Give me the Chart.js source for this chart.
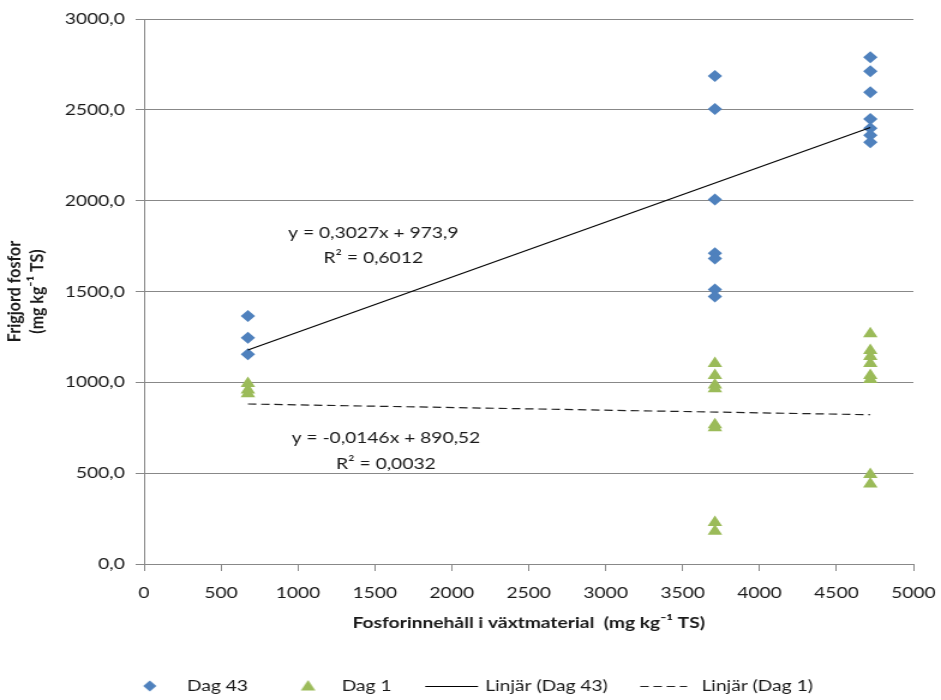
<!DOCTYPE html>
<html><head><meta charset="utf-8">
<script src="https://cdn.jsdelivr.net/npm/chart.js@4"></script>
<style>
html,body{margin:0;padding:0;background:#fff;overflow:hidden;}
#wrap{width:784px;height:700px;transform:scaleX(1.20026);transform-origin:0 0;}
</style></head><body>
<div id="wrap"><canvas id="c"></canvas></div>
<script>
// ---- data ----
const xTickValues = [0, 500, 1000, 1500, 2000, 2500, 3000, 3500, 4000, 4500, 5000];
const yTickValues = [0, 500, 1000, 1500, 2000, 2500, 3000];
const seriesNames = ['Dag 43', 'Dag 1', 'Linjär (Dag 43)', 'Linjär (Dag 1)'];

const dag43X = [675, 675, 675,
  3710, 3710, 3710, 3710, 3710, 3710, 3710,
  4720, 4720, 4720, 4720, 4720, 4720, 4720];
const dag43Y = [1365, 1245, 1155,
  2686, 2504, 2007, 1710, 1682, 1511, 1472,
  2790, 2713, 2597, 2449, 2399, 2360, 2322];

const dag1X = [675, 675, 675,
  3710, 3710, 3710, 3710, 3710, 3710, 3710, 3710,
  4720, 4720, 4720, 4720, 4720, 4720, 4720, 4720];
const dag1Y = [993, 958, 937,
  1103, 1037, 985, 965, 767, 750, 228, 180,
  1268, 1175, 1142, 1103, 1037, 1015, 492, 440];

const trend43 = [0.3027, 973.9];   // slope, intercept
const trend1 = [-0.0146, 890.52];
const eqTexts = ['y = 0,3027x + 973,9', 'R² = 0,6012', 'y = -0,0146x + 890,52', 'R² = 0,0032'];

// ---- build ----
const pts = (xs, ys) => xs.map((x, i) => ({x: x, y: ys[i]}));
const trendPts = (xs, c) => {
  const lo = Math.min(...xs), hi = Math.max(...xs);
  return [{x: lo, y: c[0] * lo + c[1]}, {x: hi, y: c[0] * hi + c[1]}];
};

const BLUE = '#4F81BD', GREEN = '#9BBB59', GRID = '#888888', TXT = '#1a1a1a';
const FONT = 'Lato';

// legend symbol images
const BOXW = 52, IMGW = BOXW + 16, IMGH = 18;
function sym(draw) {
  const c = document.createElement('canvas');
  c.width = IMGW; c.height = IMGH;
  const g = c.getContext('2d');
  draw(g);
  return c;
}
const symDiamond = sym(g => {
  const cx = 37, cy = IMGH / 2, r = 5.5;
  g.fillStyle = BLUE; g.beginPath();
  g.moveTo(cx - r, cy); g.lineTo(cx, cy - r); g.lineTo(cx + r, cy); g.lineTo(cx, cy + r);
  g.closePath(); g.fill();
});
const symTri = sym(g => {
  const cx = 40, cy = IMGH / 2 + 1, r = 7;
  g.fillStyle = GREEN; g.beginPath();
  g.moveTo(cx, cy - r); g.lineTo(cx + 0.866 * r, cy + r / 2); g.lineTo(cx - 0.866 * r, cy + r / 2);
  g.closePath(); g.fill();
});
const symLine = sym(g => {
  g.strokeStyle = '#000'; g.lineWidth = 1.2;
  g.beginPath(); g.moveTo(18, IMGH / 2 + 0.5); g.lineTo(62, IMGH / 2 + 0.5); g.stroke();
});
const symDash = sym(g => {
  g.strokeStyle = '#222'; g.lineWidth = 1.2; g.setLineDash([7, 4]);
  g.beginPath(); g.moveTo(17, IMGH / 2 + 0.5); g.lineTo(56, IMGH / 2 + 0.5); g.stroke();
});
const legendSyms = [symDiamond, symTri, symLine, symDash];

const eqPlugin = {
  id: 'eqPlugin',
  afterLayout(chart) {
    if (chart.legend) { chart.legend.left += 6; chart.legend.right += 6; }
  },
  afterDatasetsDraw(chart) {
    const {ctx, scales: {x, y}} = chart;
    const place = [[1490, 1822], [1490, 1685], [1572, 697], [1572, 553]];
    ctx.save();
    ctx.font = '16px ' + FONT;
    ctx.fillStyle = TXT;
    ctx.textAlign = 'center';
    ctx.textBaseline = 'middle';
    eqTexts.forEach((t, i) => {
      ctx.fillText(t, x.getPixelForValue(place[i][0]), y.getPixelForValue(place[i][1]));
    });
    ctx.restore();
  }
};

new Chart(document.getElementById('c'), {
  type: 'scatter',
  data: {
    datasets: [
      {label: seriesNames[0], data: pts(dag43X, dag43Y), pointStyle: 'rectRot', pointRadius: 6,
       backgroundColor: BLUE, borderColor: BLUE, borderWidth: 0, order: 2},
      {label: seriesNames[1], data: pts(dag1X, dag1Y), pointStyle: 'triangle', pointRadius: 7,
       backgroundColor: GREEN, borderColor: GREEN, borderWidth: 0, order: 3},
      {label: seriesNames[2], type: 'line', data: trendPts(dag43X, trend43), showLine: true,
       borderColor: '#000', borderWidth: 1.2, pointRadius: 0, fill: false, order: 0},
      {label: seriesNames[3], type: 'line', data: trendPts(dag1X, trend1), showLine: true,
       borderColor: '#222', borderWidth: 1.2, borderDash: [7, 4], pointRadius: 0, fill: false, order: 1}
    ]
  },
  options: {
    responsive: true,
    maintainAspectRatio: false,
    animation: false,
    layout: {padding: {left: 0, right: 23, top: 19, bottom: -4}},
    plugins: {
      tooltip: {enabled: false},
      legend: {
        position: 'bottom',
        labels: {
          usePointStyle: true,
          pointStyleWidth: BOXW,
          padding: 18,
          color: TXT,
          font: {family: FONT, size: 16},
          generateLabels: () => seriesNames.map((n, i) => ({
            text: n, pointStyle: legendSyms[i], fillStyle: 'rgba(0,0,0,0)',
            strokeStyle: 'rgba(0,0,0,0)', lineWidth: 0, hidden: false, datasetIndex: i, fontColor: TXT
          }))
        }
      }
    },
    scales: {
      x: {
        type: 'linear', min: 0, max: 5000,
        afterBuildTicks: s => { s.ticks = xTickValues.map(v => ({value: v})); },
        afterFit: s => { s.height = 96; s.paddingRight = 0; s.paddingLeft = 0; },
        ticks: {color: TXT, font: {family: FONT, size: 16}, padding: 12, maxRotation: 0,
                callback: v => String(v)},
        grid: {drawOnChartArea: false, drawTicks: true, tickLength: 7, color: GRID},
        border: {color: GRID},
        title: {display: true, text: 'Fosforinnehåll i växtmaterial  (mg kg⁻¹ TS)', color: TXT,
                font: {family: FONT, size: 16, weight: 'bold'}, padding: {top: 6, bottom: 28}}
      },
      y: {
        min: 0, max: 3000,
        afterBuildTicks: s => { s.ticks = yTickValues.map(v => ({value: v})); },
        afterFit: s => { s.width = 120; },
        ticks: {color: TXT, font: {family: FONT, size: 16}, padding: 9,
                callback: v => v.toFixed(1).replace('.', ',')},
        grid: {color: GRID, tickLength: 7},
        border: {color: GRID},
        title: {display: true, text: ['Frigjord fosfor', '(mg kg⁻¹ TS)'], color: TXT,
                font: {family: FONT, size: 16, weight: 'bold'}, padding: {top: 2, bottom: 0}}
      }
    }
  },
  plugins: [eqPlugin]
});
</script>
</body></html>
